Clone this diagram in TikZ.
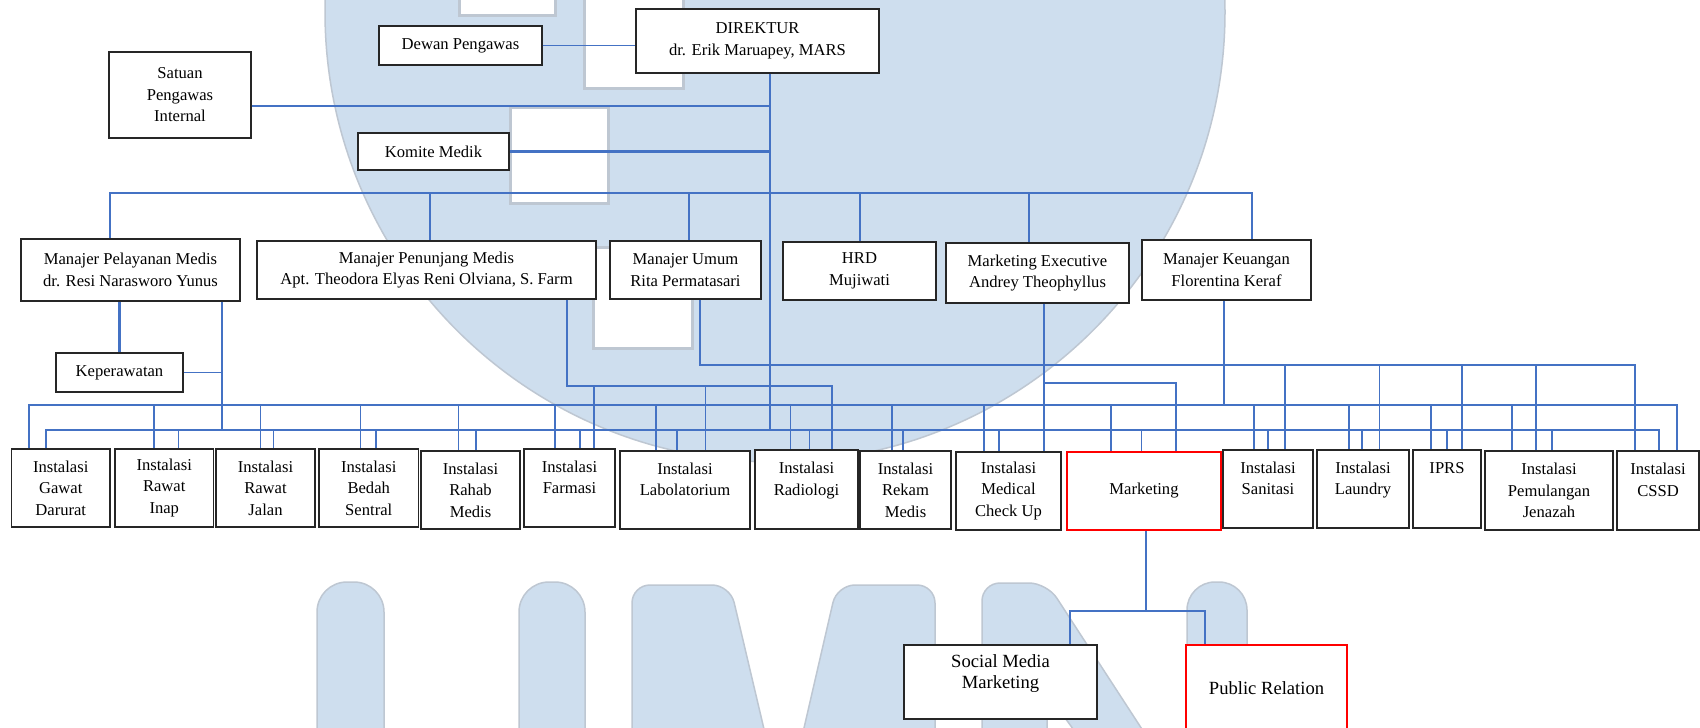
\documentclass[tikz,border=0pt]{standalone}
\usepackage{fontspec}
\setmainfont{Liberation Serif}
\definecolor{lineblue}{RGB}{68,114,196}
\definecolor{wmblue}{RGB}{206,222,238}
\definecolor{wmedge}{RGB}{190,199,210}

\begin{document}
\begin{tikzpicture}[x=1pt, y=-1pt,
  unit/.style={draw=black!85, line width=1.2pt, fill=white, inner sep=0pt, align=center, font=\fontsize{16.6}{21.5}\selectfont},
  redunit/.style={unit, draw=red, line width=2.2pt},
  subunit/.style={unit, font=\fontsize{18.6}{21}\selectfont},
  link/.style={draw=lineblue, line width=1.1pt},
  boldlink/.style={draw=lineblue, line width=2.2pt}]
\useasboundingbox (0,0) rectangle (1700,728);
\fill[white] (0,0) rectangle (1700,728);
% Watermark
\filldraw[fill=wmblue, draw=wmedge, line width=1.5pt] (775,12) circle [radius=450pt];
\filldraw[fill=white, draw=wmedge, line width=3pt] (459,-10) rectangle (555,15);
\filldraw[fill=white, draw=wmedge, line width=3pt] (584,-10) rectangle (683,88);
\filldraw[fill=white, draw=wmedge, line width=3pt] (510,107) rectangle (608,203);
\filldraw[fill=white, draw=wmedge, line width=3pt] (593,247) rectangle (692,348);
\filldraw[fill=wmblue, draw=wmedge, line width=1.5pt, rounded corners=30pt] (317,780) -- (317,582) -- (384,582) -- (384,780) -- cycle;
\filldraw[fill=wmblue, draw=wmedge, line width=1.5pt, rounded corners=30pt] (519,780) -- (519,582) -- (585,582) -- (585,780) -- cycle;
\filldraw[fill=wmblue, draw=wmedge, line width=1.5pt, rounded corners=18pt] (632,780) -- (632,585) -- (730,585) -- (776,780) -- (792,780) -- (837,585) -- (935,585) -- (935,780) -- cycle;
\filldraw[fill=wmblue, draw=wmedge, line width=1.5pt, rounded corners=18pt] (982,780) -- (982,583) -- (1047,583) -- (1175,780) -- (1110,780) -- (1047,693) -- (1047,780) -- cycle;
\filldraw[fill=wmblue, draw=wmedge, line width=1.5pt, rounded corners=28pt] (1187,780) -- (1187,582) -- (1247,582) -- (1247,780) -- cycle;
% Top level
\node[unit, minimum width=243pt, minimum height=64pt] (dir) at (757.5,41) {DIREKTUR\\dr. Erik Maruapey, MARS};
\node[unit, minimum width=163pt, minimum height=39pt] (dewan) at (460.5,45.5) {Dewan Pengawas};
\node[unit, minimum width=142pt, minimum height=86pt] (spi) at (180,95) {Satuan\\Pengawas\\Internal};
\node[unit, minimum width=151pt, minimum height=37pt] (komite) at (433.5,151.5) {Komite Medik};
% Managers
\node[unit, minimum width=219pt, minimum height=62pt] (mpm) at (130.5,270) {Manajer Pelayanan Medis\\dr. Resi Narasworo Yunus};
\node[unit, minimum width=339pt, minimum height=58pt] (mpj) at (426.5,270) {Manajer Penunjang Medis\\Apt. Theodora Elyas Reni Olviana, S. Farm};
\node[unit, minimum width=151pt, minimum height=58pt] (mum) at (685.5,270) {Manajer Umum\\Rita Permatasari};
\node[unit, minimum width=153pt, minimum height=58pt] (hrd) at (859.5,271) {HRD\\Mujiwati};
\node[unit, minimum width=183pt, minimum height=60pt] (mex) at (1037.5,273) {Marketing Executive\\Andrey Theophyllus};
\node[unit, minimum width=169pt, minimum height=60pt] (mku) at (1226.5,270) {Manajer Keuangan\\Florentina Keraf};
\node[unit, minimum width=127pt, minimum height=39pt] (kep) at (119.5,372.5) {Keperawatan};
% Instalasi
\node[unit, minimum width=98.5pt, minimum height=78pt] (gd) at (60.75,488) {Instalasi\\Gawat\\Darurat};
\node[unit, minimum width=98.5pt, minimum height=78pt] (ri) at (164.25,488) {Instalasi\\Rawat\\Inap};
\node[unit, minimum width=99pt, minimum height=78pt] (rj) at (265.5,488) {Instalasi\\Rawat\\Jalan};
\node[unit, minimum width=99.5pt, minimum height=78pt] (bs) at (368.75,488) {Instalasi\\Bedah\\Sentral};
\node[unit, minimum width=99pt, minimum height=78pt] (rm) at (470.5,490) {Instalasi\\Rahab\\Medis};
\node[unit, minimum width=91pt, minimum height=78pt] (fa) at (569.5,488) {Instalasi\\Farmasi\\~};
\node[unit, minimum width=130pt, minimum height=78pt] (lab) at (685,490) {Instalasi\\Labolatorium\\~};
\node[unit, minimum width=103pt, minimum height=79pt] (rad) at (806.5,489.5) {Instalasi\\Radiologi\\~};
\node[unit, minimum width=91pt, minimum height=78pt] (rek) at (905.5,490) {Instalasi\\Rekam\\Medis};
\node[unit, minimum width=105pt, minimum height=78pt] (mcu) at (1008.5,491) {Instalasi\\Medical\\Check Up};
\node[redunit, minimum width=154pt, minimum height=78pt] (mkt) at (1144,491) {Marketing};
\node[unit, minimum width=90pt, minimum height=78pt] (san) at (1268,489) {Instalasi\\Sanitasi\\~};
\node[unit, minimum width=92pt, minimum height=78pt] (lau) at (1363,489) {Instalasi\\Laundry\\~};
\node[unit, minimum width=68pt, minimum height=78pt] (iprs) at (1447,489) {IPRS\\~\\~};
\node[unit, minimum width=128pt, minimum height=79pt] (pj) at (1549,490.5) {Instalasi\\Pemulangan\\Jenazah};
\node[unit, minimum width=82pt, minimum height=79pt] (cssd) at (1658,490.5) {Instalasi\\CSSD\\~};
% Marketing
\node[subunit, minimum width=193pt, minimum height=74pt] (smm) at (1000.5,682) {Social Media\\Marketing\\~};
\node[subunit, draw=red, line width=2.2pt, minimum width=161pt, minimum height=86pt] (pr) at (1266.5,688) {Public Relation};
% Bus points
\coordinate (trunk) at (770,430);
\coordinate (mbL) at (110,193);
\coordinate (mbR) at (1252,193);
\coordinate (ubL) at (29,405);
\coordinate (ubR) at (1677,405);
\coordinate (lbL) at (46,430);
\coordinate (lbR) at (1659,430);
\coordinate (pjL) at (567,386);
\coordinate (pjR) at (832,386);
\coordinate (umL) at (700,365);
\coordinate (umR) at (1635,365);
\coordinate (mxB) at (1176,383);
\coordinate (mkB) at (1146,611);
% Links top
\draw[link] (dewan.east) -- (dir.west |- dewan.east);
\draw[link] (trunk |- dir.south) -- (trunk);
\draw[boldlink] (spi.east |- 0,106) -- (trunk |- 0,106);
\draw[boldlink] (komite.east) -- (trunk |- komite.east);
% Managers bus
\draw[link] (mpm.north -| mbL) -- (mbL) -- (mbR) -- (mku.north -| mbR);
\draw[link] (430,0 |- mbL) -- (430,0 |- mpj.north);
\draw[link] (689,0 |- mbL) -- (689,0 |- mum.north);
\draw[link] (860,0 |- mbL) -- (860,0 |- hrd.north);
\draw[link] (1029,0 |- mbL) -- (1029,0 |- mex.north);
% Below managers
\draw[boldlink] (kep.north |- mpm.south) -- (kep.north);
\draw[link] (222,0 |- mpm.south) -- (222,0 |- lbL);
\draw[link] (kep.east) -- (222,0 |- kep.east);
\draw[link] (mpj.south -| pjL) -- (pjL) -- (pjR) -- (rad.north -| pjR);
\draw[link] (594,0 |- pjL) -- (594,0 |- fa.north);
\draw[link] (705.5,0 |- pjL) -- (705.5,0 |- lab.north);
\draw[link] (mum.south -| umL) -- (umL) -- (umR) -- (cssd.north -| umR);
\draw[link] (1285,0 |- umL) -- (1285,0 |- san.north);
\draw[link] (1379.5,0 |- umL) -- (1379.5,0 |- lau.north);
\draw[link] (1462,0 |- umL) -- (1462,0 |- iprs.north);
\draw[link] (1536,0 |- umL) -- (1536,0 |- pj.north);
\draw[link] (1044,0 |- mex.south) -- (1044,0 |- mcu.north);
\draw[link] (1044,0 |- mxB) -- (mxB) -- (mkt.north -| mxB);
\draw[link] (1224,0 |- mku.south) -- (1224,0 |- ubL);
% Upper bus
\draw[link] (gd.north -| ubL) -- (ubL) -- (ubR) -- (cssd.north -| ubR);
\draw[link] (154,0 |- ubL) -- (154,0 |- ri.north);
\draw[link] (260.6,0 |- ubL) -- (260.6,0 |- rj.north);
\draw[link] (360.5,0 |- ubL) -- (360.5,0 |- bs.north);
\draw[link] (458.7,0 |- ubL) -- (458.7,0 |- rm.north);
\draw[link] (555,0 |- ubL) -- (555,0 |- fa.north);
\draw[link] (656,0 |- ubL) -- (656,0 |- lab.north);
\draw[link] (790.5,0 |- ubL) -- (790.5,0 |- rad.north);
\draw[link] (892,0 |- ubL) -- (892,0 |- rek.north);
\draw[link] (984,0 |- ubL) -- (984,0 |- mcu.north);
\draw[link] (1111,0 |- ubL) -- (1111,0 |- mkt.north);
\draw[link] (1254,0 |- ubL) -- (1254,0 |- san.north);
\draw[link] (1349,0 |- ubL) -- (1349,0 |- lau.north);
\draw[link] (1431,0 |- ubL) -- (1431,0 |- iprs.north);
\draw[link] (1512,0 |- ubL) -- (1512,0 |- pj.north);
% Lower bus
\draw[link] (gd.north -| lbL) -- (lbL) -- (lbR) -- (cssd.north -| lbR);
\draw[link] (178.5,0 |- lbL) -- (178.5,0 |- ri.north);
\draw[link] (273.8,0 |- lbL) -- (273.8,0 |- rj.north);
\draw[link] (376,0 |- lbL) -- (376,0 |- bs.north);
\draw[link] (476,0 |- lbL) -- (476,0 |- rm.north);
\draw[link] (580,0 |- lbL) -- (580,0 |- fa.north);
\draw[link] (677,0 |- lbL) -- (677,0 |- lab.north);
\draw[link] (809.4,0 |- lbL) -- (809.4,0 |- rad.north);
\draw[link] (903,0 |- lbL) -- (903,0 |- rek.north);
\draw[link] (999,0 |- lbL) -- (999,0 |- mcu.north);
\draw[link] (1141.6,0 |- lbL) -- (1141.6,0 |- mkt.north);
\draw[link] (1268,0 |- lbL) -- (1268,0 |- san.north);
\draw[link] (1362,0 |- lbL) -- (1362,0 |- lau.north);
\draw[link] (1447,0 |- lbL) -- (1447,0 |- iprs.north);
\draw[link] (1552,0 |- lbL) -- (1552,0 |- pj.north);
% Marketing team
\draw[boldlink] (mkt.south -| mkB) -- (mkB);
\draw[link] (smm.north -| 1070,0) -- (1070,0 |- mkB) -- (1205,0 |- mkB) -- (pr.north -| 1205,0);
\end{tikzpicture}
\end{document}
